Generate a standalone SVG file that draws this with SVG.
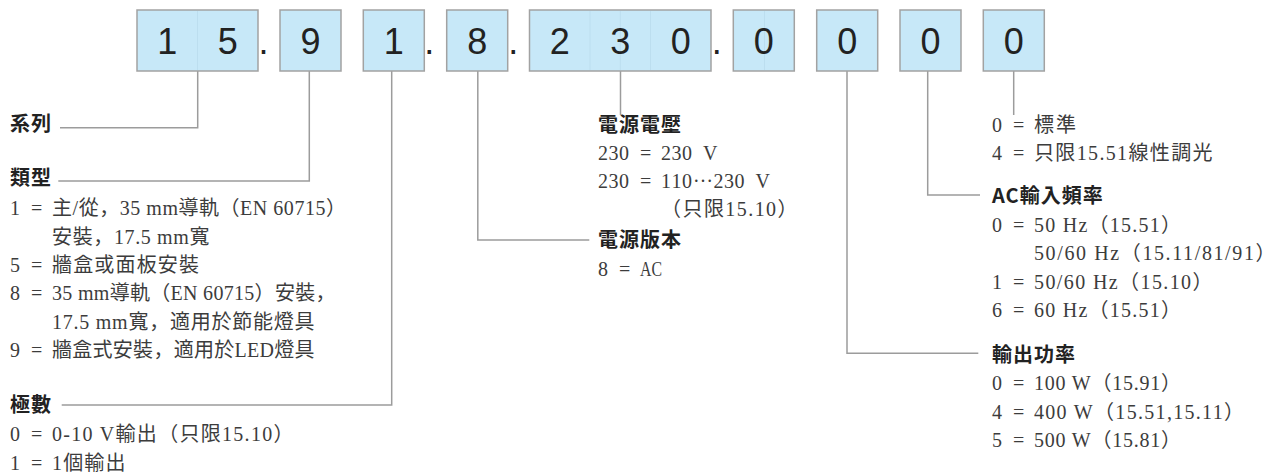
<svg xmlns="http://www.w3.org/2000/svg" width="1277" height="472" viewBox="0 0 1277 472">
<style>
.box{fill:#c7e8f8;stroke:#a2a2a2;stroke-width:1.5}
.faint{stroke:#bcdeef;stroke-width:1}
.bd{font-family:"Liberation Sans",Arial,sans-serif;font-size:36px;fill:#222;text-anchor:middle}
.conn{fill:none;stroke:#9c9c9c;stroke-width:1.5}
.h{font-family:"Noto Sans CJK JP","Noto Sans CJK TC",sans-serif;font-size:20px;font-weight:700;fill:#222;letter-spacing:1px}
.t{font-family:"Liberation Serif","Noto Sans CJK JP","Noto Sans CJK TC",serif;font-size:20px;fill:#3c3c3c}
</style>
<rect width="1277" height="472" fill="#fff"/>
<g id="connectors">
<path class="conn" d="M197.7 71V127.7H60"/>
<path class="conn" d="M309.3 71V181H58.3"/>
<path class="conn" d="M391.7 71V405H61.7"/>
<path class="conn" d="M477.8 71V240H589.3"/>
<path class="conn" d="M620.5 71V115"/>
<path class="conn" d="M847 71V353.3H978.3"/>
<path class="conn" d="M927.7 71V195H980"/>
<path class="conn" d="M1013.7 71V115"/>
</g>
<g id="code">
<g id="box-15">
<rect class="box" x="137" y="10" width="121" height="61"/>
<line class="faint" x1="197.5" y1="11" x2="197.5" y2="70"/>
<text class="bd" x="167.2" y="53.5">1</text>
<text class="bd" x="227.7" y="53.5">5</text>
</g>
<text class="bd" x="263.5" y="53.5">.</text>
<g id="box-9">
<rect class="box" x="280" y="10" width="61" height="61"/>
<text class="bd" x="310.5" y="53.5">9</text>
</g>
<g id="box-1">
<rect class="box" x="363.3" y="10" width="61" height="61"/>
<text class="bd" x="393.8" y="53.5">1</text>
</g>
<text class="bd" x="429.3" y="53.5">.</text>
<g id="box-8">
<rect class="box" x="446.7" y="10" width="61" height="61"/>
<text class="bd" x="477.2" y="53.5">8</text>
</g>
<text class="bd" x="513.3" y="53.5">.</text>
<g id="box-230">
<rect class="box" x="529.5" y="10" width="181.5" height="61"/>
<line class="faint" x1="590" y1="11" x2="590" y2="70"/>
<line class="faint" x1="620.3" y1="11" x2="620.3" y2="70"/>
<line class="faint" x1="650.5" y1="11" x2="650.5" y2="70"/>
<text class="bd" x="559.8" y="53.5">2</text>
<text class="bd" x="620.3" y="53.5">3</text>
<text class="bd" x="680.8" y="53.5">0</text>
</g>
<text class="bd" x="716.7" y="53.5">.</text>
<g id="box-0a">
<rect class="box" x="733.3" y="10" width="61" height="61"/>
<line class="faint" x1="764.5" y1="11" x2="764.5" y2="70"/>
<text class="bd" x="763.8" y="53.5">0</text>
</g>
<g id="box-0b">
<rect class="box" x="816.7" y="10" width="61" height="61"/>
<text class="bd" x="847.2" y="53.5">0</text>
</g>
<g id="box-0c">
<rect class="box" x="900" y="10" width="61" height="61"/>
<text class="bd" x="930.5" y="53.5">0</text>
</g>
<g id="box-0d">
<rect class="box" x="983.3" y="10" width="61" height="61"/>
<text class="bd" x="1013.8" y="53.5">0</text>
</g>
</g>
<g id="series">
<text class="h" x="10" y="131">系列</text>
</g>
<g id="type">
<text class="h" x="10" y="185">類型</text>
<text class="t" y="215.3"><tspan x="10 20.5 31 41.5">1 = </tspan><tspan x="52" textLength="294" lengthAdjust="spacing">主/從，35 mm導軌（EN 60715）</tspan></text>
<text class="t" x="52" y="243.6" textLength="157.5" lengthAdjust="spacing">安裝，17.5 mm寬</text>
<text class="t" y="272"><tspan x="10 20.5 31 41.5">5 = </tspan><tspan x="52" textLength="147" lengthAdjust="spacing">牆盒或面板安裝</tspan></text>
<text class="t" y="300.3"><tspan x="10 20.5 31 41.5">8 = </tspan><tspan x="52" textLength="283.5" lengthAdjust="spacing">35 mm導軌（EN 60715）安裝，</tspan></text>
<text class="t" x="52" y="328.6" textLength="262.5" lengthAdjust="spacing">17.5 mm寬，適用於節能燈具</text>
<text class="t" y="357"><tspan x="10 20.5 31 41.5">9 = </tspan><tspan x="52" textLength="262.5" lengthAdjust="spacing">牆盒式安裝，適用於LED燈具</tspan></text>
</g>
<g id="poles">
<text class="h" x="10" y="412">極數</text>
<text class="t" y="441"><tspan x="10 20.5 31 41.5">0 = </tspan><tspan x="52" textLength="241.5" lengthAdjust="spacing">0-10 V輸出（只限15.10）</tspan></text>
<text class="t" y="469.5"><tspan x="10 20.5 31 41.5">1 = </tspan><tspan x="52" textLength="73.5" lengthAdjust="spacing">1個輸出</tspan></text>
</g>
<g id="supply-voltage">
<text class="h" x="598" y="132">電源電壓</text>
<text class="t" x="598 608.5 619 629.5 640 650.5 661 671.5 682 692.5 703" y="159.5">230 = 230 V</text>
<text class="t" y="188"><tspan x="598 608.5 619 629.5 640 650.5 661 671.5 682">230 = 110</tspan><tspan x="693" dy="-6">…</tspan><tspan x="713.5 724 734.5 745 755.5" dy="6">230 V</tspan></text>
<text class="t" x="661" y="216" textLength="136.5" lengthAdjust="spacing">（只限15.10）</text>
</g>
<g id="supply-version">
<text class="h" x="598" y="247">電源版本</text>
<text class="t" y="275.5"><tspan x="598 608.5 619 629.5">8 = </tspan><tspan x="640" textLength="22" lengthAdjust="spacingAndGlyphs">AC</tspan></text>
</g>
<g id="variant">
<text class="t" y="132"><tspan x="992 1002.5 1013 1023.5">0 = </tspan><tspan x="1034" textLength="42" lengthAdjust="spacing">標準</tspan></text>
<text class="t" y="160.3"><tspan x="992 1002.5 1013 1023.5">4 = </tspan><tspan x="1034" textLength="178.5" lengthAdjust="spacing">只限15.51線性調光</tspan></text>
</g>
<g id="ac-frequency">
<text class="h" x="992" y="203">AC輸入頻率</text>
<text class="t" y="232"><tspan x="992 1002.5 1013 1023.5">0 = </tspan><tspan x="1034" textLength="147" lengthAdjust="spacing">50 Hz（15.51）</tspan></text>
<text class="t" x="1034" y="260.3" textLength="241.5" lengthAdjust="spacing">50/60 Hz（15.11/81/91）</text>
<text class="t" y="288.7"><tspan x="992 1002.5 1013 1023.5">1 = </tspan><tspan x="1034" textLength="178.5" lengthAdjust="spacing">50/60 Hz（15.10）</tspan></text>
<text class="t" y="317"><tspan x="992 1002.5 1013 1023.5">6 = </tspan><tspan x="1034" textLength="147" lengthAdjust="spacing">60 Hz（15.51）</tspan></text>
</g>
<g id="output-power">
<text class="h" x="992" y="362">輸出功率</text>
<text class="t" y="390.3"><tspan x="992 1002.5 1013 1023.5">0 = </tspan><tspan x="1034" textLength="147" lengthAdjust="spacing">100 W（15.91）</tspan></text>
<text class="t" y="418.7"><tspan x="992 1002.5 1013 1023.5">4 = </tspan><tspan x="1034" textLength="210" lengthAdjust="spacing">400 W（15.51,15.11）</tspan></text>
<text class="t" y="447"><tspan x="992 1002.5 1013 1023.5">5 = </tspan><tspan x="1034" textLength="147" lengthAdjust="spacing">500 W（15.81）</tspan></text>
</g>
</svg>
